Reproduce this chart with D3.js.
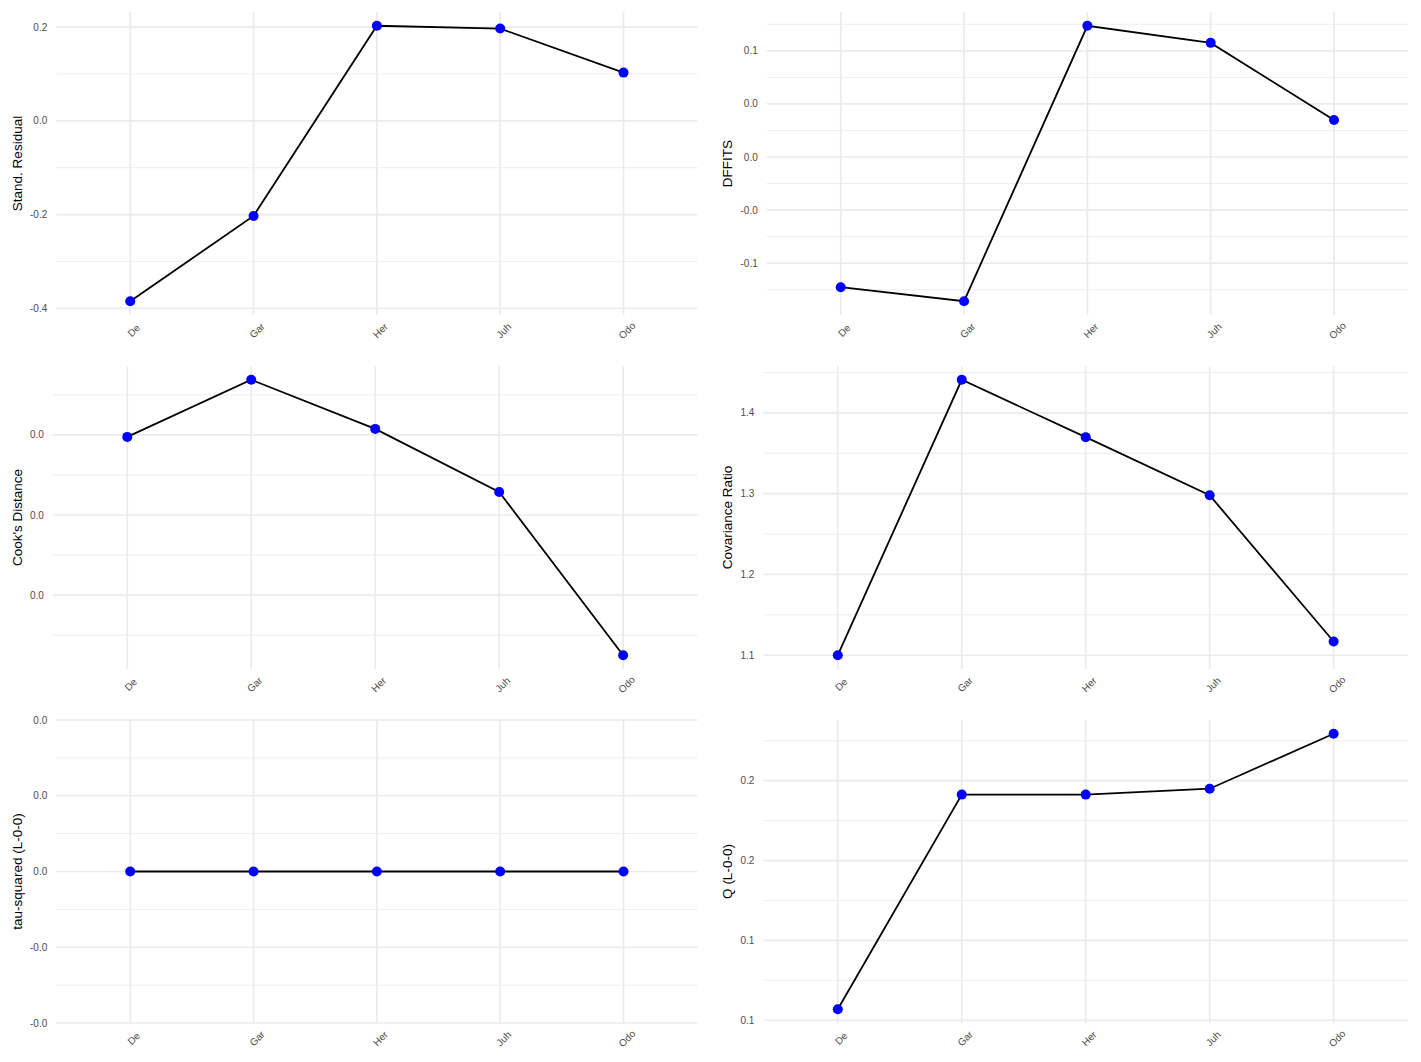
<!DOCTYPE html>
<html><head><meta charset="utf-8">
<script src="https://cdn.jsdelivr.net/npm/d3@7"></script>
<style>
body{margin:0;background:#fff}
text{font-family:"Liberation Sans",Arial,sans-serif}
</style>
</head><body>
<svg id="chart" width="1421" height="1062"></svg>
<script>
const categories = ["De","Gar","Her","Juh","Odo"];

const standResid = [-0.385, -0.203, 0.203, 0.197, 0.103];
const dffits     = [-0.1226, -0.1358, 0.1236, 0.1075, 0.0349];
const cooksD     = [0.02975, 0.03688, 0.03075, 0.02288, 0.0025];
const covRatio   = [1.100, 1.441, 1.370, 1.298, 1.117];
const tau2       = [0, 0, 0, 0, 0];
const qStat      = [0.1069, 0.2413, 0.2413, 0.2450, 0.2794];

const ticksStand  = [0.2, 0.0, -0.2, -0.4];
const labelsStand = ["0.2", "0.0", "-0.2", "-0.4"];
const ticksDffits  = [0.1, 0.05, 0.0, -0.05, -0.1];
const labelsDffits = ["0.1", "0.0", "0.0", "-0.0", "-0.1"];
const ticksCook  = [0.03, 0.02, 0.01];
const labelsCook = ["0.0", "0.0", "0.0"];
const ticksCov  = [1.4, 1.3, 1.2, 1.1];
const labelsCov = ["1.4", "1.3", "1.2", "1.1"];
const ticksTau  = [0.02, 0.01, 0.0, -0.01, -0.02];
const labelsTau = ["0.0", "0.0", "0.0", "-0.0", "-0.0"];
const ticksQ  = [0.25, 0.2, 0.15, 0.1];
const labelsQ = ["0.2", "0.2", "0.1", "0.1"];

const titles = ["Stand. Residual", "DFFITS", "Cook's Distance", "Covariance Ratio", "tau-squared (L-0-0)", "Q (L-0-0)"];

const panels = [
  {title: titles[0], values: standResid, ticks: ticksStand, labels: labelsStand},
  {title: titles[1], values: dffits, ticks: ticksDffits, labels: labelsDffits},
  {title: titles[2], values: cooksD, ticks: ticksCook, labels: labelsCook},
  {title: titles[3], values: covRatio, ticks: ticksCov, labels: labelsCov},
  {title: titles[4], values: tau2, ticks: ticksTau, labels: labelsTau},
  {title: titles[5], values: qStat, ticks: ticksQ, labels: labelsQ}
];

const svg = d3.select("#chart");
const colW = 1421 / 2, rowH = 1062 / 3;

const meas = svg.append("text").attr("font-size", 10).style("visibility","hidden");
function textW(s){ meas.text(s); return meas.node().getComputedTextLength(); }

panels.forEach((p, i) => {
  const c = i % 2, r = Math.floor(i / 2);
  const x0 = c * colW, y0 = r * rowH;
  const maxLW = d3.max(p.labels, textW);
  const left = x0 + 29 + maxLW + 10;
  const right = x0 + 697.5;
  const top = y0 + 12;
  const bottom = y0 + 315;

  let [mn, mx] = d3.extent(p.values);
  let span = mx - mn;
  let dom;
  if (span === 0) {
    dom = d3.extent(p.ticks);
  } else {
    dom = [mn - 0.05 * span, mx + 0.05 * span];
  }
  const y = d3.scaleLinear().domain(dom).range([bottom, top]);
  const x = d3.scalePoint().domain(categories).range([left, right]).padding(0.6);

  const g = svg.append("g");

  const sorted = p.ticks.slice().sort((a,b)=>a-b);
  const step = sorted[1] - sorted[0];
  const minors = [];
  for (let k = 0; k <= sorted.length; k++) {
    const v = sorted[0] + (k - 0.5) * step;
    if (v >= dom[0] && v <= dom[1]) minors.push(v);
  }
  g.selectAll(".minor").data(minors).join("line")
    .attr("x1", left).attr("x2", right)
    .attr("y1", d => y(d)).attr("y2", d => y(d))
    .attr("stroke", "#ebebeb").attr("stroke-width", 0.9);

  g.selectAll(".majorH").data(p.ticks).join("line")
    .attr("x1", left).attr("x2", right)
    .attr("y1", d => y(d)).attr("y2", d => y(d))
    .attr("stroke", "#ebebeb").attr("stroke-width", 1.7);

  g.selectAll(".majorV").data(categories).join("line")
    .attr("x1", d => x(d)).attr("x2", d => x(d))
    .attr("y1", top).attr("y2", bottom)
    .attr("stroke", "#ebebeb").attr("stroke-width", 1.7);

  g.selectAll(".ylab").data(p.ticks).join("text")
    .attr("x", left - 9).attr("y", d => y(d))
    .attr("dy", "0.35em").attr("text-anchor", "end")
    .attr("font-size", 10).attr("fill", "#4d4d4d")
    .text((d, k) => p.labels[k]);

  g.selectAll(".xlab").data(categories).join("text")
    .attr("transform", d => `translate(${x(d) + 3.5},${bottom + 15.5}) rotate(-45)`)
    .attr("text-anchor", "middle").attr("dominant-baseline", "central")
    .attr("font-size", 10).attr("fill", "#4d4d4d")
    .text(d => d);

  g.append("text")
    .attr("transform", `translate(${x0 + 17},${(top + bottom) / 2}) rotate(-90)`)
    .attr("text-anchor", "middle").attr("dominant-baseline", "central")
    .attr("font-size", 13.5).attr("fill", "#000")
    .text(p.title);

  const pts = categories.map((cat, k) => [x(cat), y(p.values[k])]);
  g.append("path").attr("d", d3.line()(pts))
    .attr("fill", "none").attr("stroke", "#000").attr("stroke-width", 1.8);

  g.selectAll(".pt").data(categories).join("circle")
    .attr("cx", d => x(d)).attr("cy", (d, k) => y(p.values[k]))
    .attr("r", 5).attr("fill", "#0000ff");
});
meas.remove();
</script>
</body></html>
